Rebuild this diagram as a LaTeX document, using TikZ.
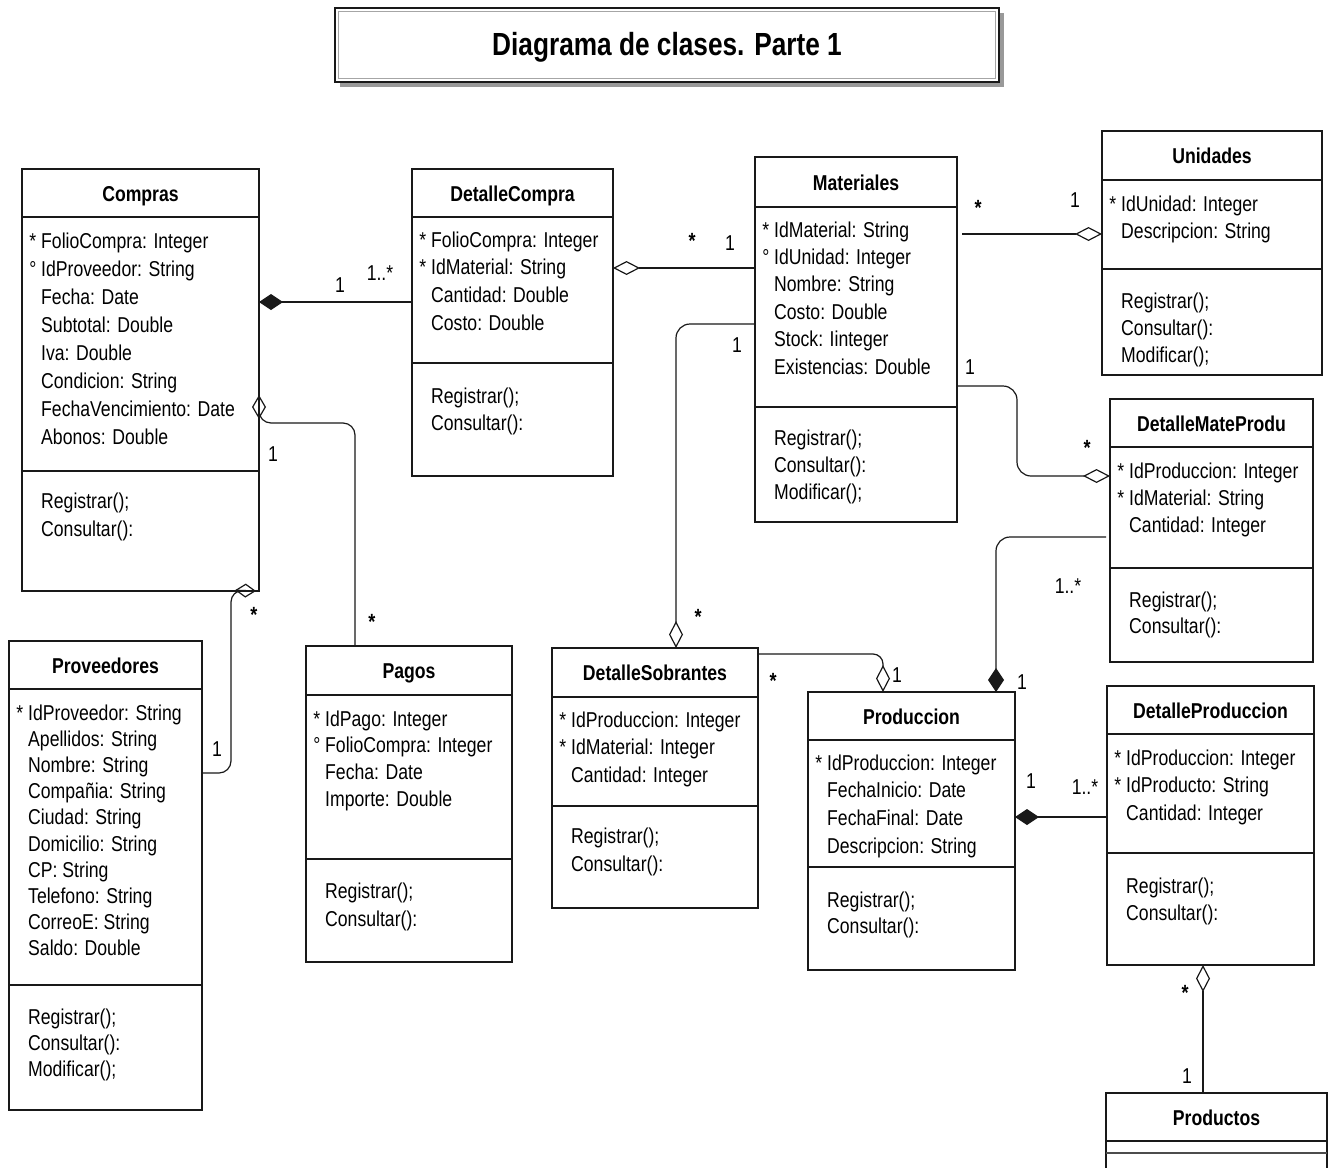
\documentclass[tikz,border=0pt]{standalone}
\usepackage{fontspec}
\setmainfont{Liberation Sans}[FakeStretch=0.82]
\usetikzlibrary{arrows.meta}

\tikzset{
  frame/.style={draw=black!90, line width=1.6pt, fill=white, inner sep=0pt, outer sep=0pt},
  rule/.style={draw=black!90, line width=1.6pt},
  cname/.style={font=\fontsize{21.5}{26}\selectfont\bfseries, anchor=base, inner sep=0pt},
  txt/.style={font=\fontsize{21.5}{26}\selectfont, anchor=base west, inner sep=0pt},
  mult/.style={font=\fontsize{21.5}{26}\selectfont, anchor=base, inner sep=0pt},
  star/.style={font=\fontsize{22}{26}\selectfont\bfseries, anchor=base, inner sep=0pt},
  conn/.style={draw=black!90, line width=1.2pt},
  agg/.style={-{Diamond[open, length=#1, width=14pt]}},
  agg/.default=27pt,
  comp/.style={-{Diamond[length=24pt, width=16pt]}},
}

% class box: name, left, top, right, bottom, header rule y, separator y, title
\newcommand{\umlclass}[8]{%
  \node[frame, minimum width={#4-#2}, minimum height={#5-#3}] (#1) at ({(#2+#4)/2},{(#3+#5)/2}) {};
  \draw[rule] (#1.west |- 0,#6) -- (#1.east |- 0,#6);
  \draw[rule] (#1.west |- 0,#7) -- (#1.east |- 0,#7);
  \node[cname] (#1-title) at ({(#2+#4)/2},{(#3+#6)/2+8}) {#8};
}
% rows of text: box name, x, first baseline, spacing, list
\newcommand{\rows}[5]{%
  \foreach \rowtext [count=\i from 0] in {#5} {\node[txt] (#1-\i) at (#2,{#3+\i*#4}) {\rowtext};}%
}
\newcommand{\pk}{\llap{*\space}}
\newcommand{\fk}{\llap{°\space}}

\begin{document}
\begin{tikzpicture}[x=1pt, y=-1pt]
\useasboundingbox (0,0) rectangle (1329,1167);
\fill[white] (0,0) rectangle (1329,1167);
\clip (0,0) rectangle (1329,1167);

% heading
\fill[black!40] (340,13) rectangle (1004,87);
\node[draw=black!90, line width=1.5pt, fill=white, minimum width=664, minimum height=74, inner sep=0pt] (title) at (667,45) {};
\draw[black!35, line width=0.6pt] (338.5,11.5) rectangle (995.5,78.5);
\node[font=\fontsize{32}{36}\selectfont\bfseries, anchor=base, inner sep=0pt] (titletext) at (667,55) {Diagrama de clases. Parte 1};

% Compras
\umlclass{cmp}{22}{169}{259}{591}{217}{471}{Compras}
\rows{cmpa}{41}{248}{28.1}{\pk FolioCompra: Integer, \fk IdProveedor: String, Fecha: Date, Subtotal: Double, Iva: Double, Condicion: String, FechaVencimiento: Date, Abonos: Double}
\rows{cmpm}{41}{508}{28.5}{Registrar();, Consultar():}

% DetalleCompra
\umlclass{dc}{412}{169}{613}{476}{217}{363}{DetalleCompra}
\rows{dca}{431}{247}{27.7}{\pk FolioCompra: Integer, \pk IdMaterial: String, Cantidad: Double, Costo: Double}
\rows{dcm}{431}{403}{27.5}{Registrar();, Consultar():}

% Materiales
\umlclass{mat}{755}{157}{957}{522}{207}{407}{Materiales}
\rows{mata}{774}{237}{27.4}{\pk IdMaterial: String, \fk IdUnidad: Integer, Nombre: String, Costo: Double, Stock: Iinteger, Existencias: Double}
\rows{matm}{774}{445}{27}{Registrar();, Consultar():, Modificar();}

% Unidades
\umlclass{uni}{1102}{131}{1322}{375}{180}{269}{Unidades}
\rows{unia}{1121}{211}{27}{\pk IdUnidad: Integer, Descripcion: String}
\rows{unim}{1121}{308}{27}{Registrar();, Consultar():, Modificar();}

% DetalleMateProdu
\umlclass{dmp}{1110}{399}{1313}{662}{447}{568}{DetalleMateProdu}
\rows{dmpa}{1129}{478}{27}{\pk IdProduccion: Integer, \pk IdMaterial: String, Cantidad: Integer}
\rows{dmpm}{1129}{607}{26.5}{Registrar();, Consultar():}

% Proveedores
\umlclass{prov}{9}{641}{202}{1110}{689}{985}{Proveedores}
\rows{prova}{28}{720}{26.2}{\pk IdProveedor: String, Apellidos: String, Nombre: String, Compañia: String, Ciudad: String, Domicilio: String, CP: String, Telefono: String, CorreoE: String, Saldo: Double}
\rows{provm}{28}{1024}{26}{Registrar();, Consultar():, Modificar();}

% Pagos
\umlclass{pg}{306}{646}{512}{962}{695}{859}{Pagos}
\rows{pga}{325}{726}{26.7}{\pk IdPago: Integer, \fk FolioCompra: Integer, Fecha: Date, Importe: Double}
\rows{pgm}{325}{898}{28}{Registrar();, Consultar():}

% DetalleSobrantes
\umlclass{ds}{552}{648}{758}{908}{697}{806}{DetalleSobrantes}
\rows{dsa}{571}{727}{27.5}{\pk IdProduccion: Integer, \pk IdMaterial: Integer, Cantidad: Integer}
\rows{dsm}{571}{843}{28.5}{Registrar();, Consultar():}

% Produccion
\umlclass{prod}{808}{692}{1015}{970}{740}{867}{Produccion}
\rows{proda}{827}{770}{27.7}{\pk IdProduccion: Integer, FechaInicio: Date, FechaFinal: Date, Descripcion: String}
\rows{prodm}{827}{907}{26.5}{Registrar();, Consultar():}

% DetalleProduccion
\umlclass{dp}{1107}{686}{1314}{965}{734}{853}{DetalleProduccion}
\rows{dpa}{1126}{765}{27.5}{\pk IdProduccion: Integer, \pk IdProducto: String, Cantidad: Integer}
\rows{dpm}{1126}{893}{27}{Registrar();, Consultar():}

% Productos (empty compartments, lower part runs off the page)
\umlclass{prods}{1106}{1093}{1327}{1190}{1141}{1153}{Productos}
\draw[black!70, line width=2.6pt] (prods.west |- 0,1153) -- (prods.east |- 0,1153);

% associations
\draw[conn, comp] (dc.west |- 0,302) -- (cmp.east |- 0,302);
\draw[conn, agg] (mat.west |- 0,268) -- (dc.east |- 0,268);
\draw[conn, agg, rounded corners=14] (mat.west |- 0,324) -| (ds.north -| 676,0);
\draw[conn, agg, shorten <=5pt] (mat.east |- 0,234) -- (uni.west |- 0,234);
\draw[conn, agg, rounded corners=14] (mat.east |- 0,386) -- (1017,386) -- (1017,476) -- (dmp.west |- 0,476);
\draw[conn, comp, rounded corners=14, shorten <=4pt] (dmp.west |- 0,537) -| (prod.north -| 996,0);
\draw[conn, agg, rounded corners=10] (ds.east |- 0,654) -| (prod.north -| 883,0);
\draw[conn, comp] (dp.west |- 0,817) -- (prod.east |- 0,817);
\draw[conn, agg] (prods.north -| 1203,0) -- (dp.south -| 1203,0);
\draw[conn, agg=24pt, rounded corners=12] (pg.north -| 355,0) -- (355,423) -- (cmp.east |- 0,423) [rounded corners=3] -- (cmp.east |- 0,395);
\draw[conn, agg=21pt, rounded corners=12] (prov.east |- 0,773) -- (231,773) -- (231,590) [rounded corners=3] -- (cmp.south -| 256,0);

% multiplicities
\node[mult] (l1) at (340,292) {1};
\node[mult] (l2) at (380,280) {1..*};
\node[star] (l3) at (692,248) {*};
\node[mult] (l4) at (730,250) {1};
\node[mult] (l5) at (737,352) {1};
\node[star] (l6) at (698,624) {*};
\node[star] (l7) at (978,215) {*};
\node[mult] (l8) at (1075,207) {1};
\node[mult] (l9) at (970,374) {1};
\node[star] (l10) at (1087,455) {*};
\node[mult] (l11) at (1068,593) {1..*};
\node[mult] (l12) at (1022,689) {1};
\node[star] (l13) at (773,688) {*};
\node[mult] (l14) at (897,682) {1};
\node[mult] (l15) at (1031,788) {1};
\node[mult] (l16) at (1085,794) {1..*};
\node[star] (l17) at (1185,1000) {*};
\node[mult] (l18) at (1187,1083) {1};
\node[mult] (l19) at (273,461) {1};
\node[star] (l20) at (372,629) {*};
\node[star] (l21) at (254,622) {*};
\node[mult] (l22) at (217,756) {1};
\end{tikzpicture}
\end{document}
